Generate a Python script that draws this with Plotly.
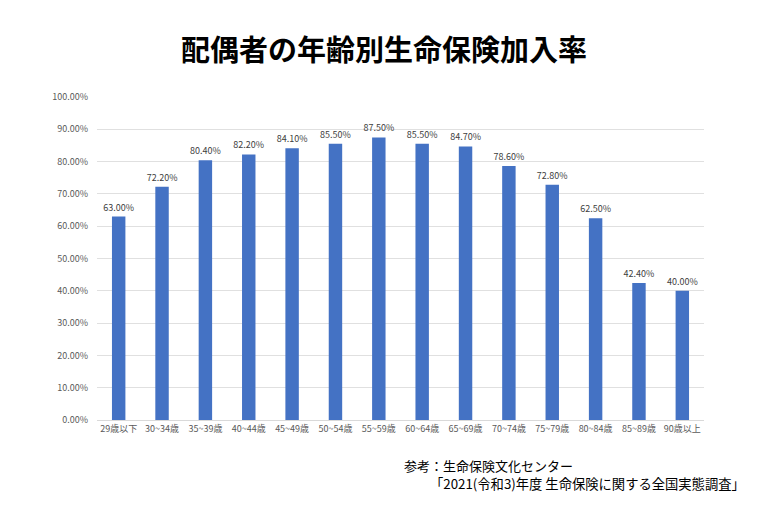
import plotly.graph_objects as go

categories = ["29歳以下", "30~34歳", "35~39歳", "40~44歳", "45~49歳", "50~54歳", "55~59歳",
              "60~64歳", "65~69歳", "70~74歳", "75~79歳", "80~84歳", "85~89歳", "90歳以上"]
rates = [63.0, 72.2, 80.4, 82.2, 84.1, 85.5, 87.5, 85.5, 84.7, 78.6, 72.8, 62.5, 42.4, 40.0]
tick_vals = [0, 10, 20, 30, 40, 50, 60, 70, 80, 90, 100]
tick_text = [f"{v:.2f}%" for v in tick_vals]

FONT = "Noto Sans CJK JP"

fig = go.Figure(go.Bar(
    x=categories, y=rates,
    marker=dict(color="#4472C4", line=dict(width=0)),
    width=0.31,
    text=[f"{v:.2f}%" for v in rates],
    textposition="outside",
    constraintext="none",
    textfont=dict(size=9, color="#404040", family=FONT),
    cliponaxis=False,
))

fig.update_layout(
    width=768, height=512,
    paper_bgcolor="white", plot_bgcolor="white",
    margin=dict(l=89, r=72, t=89, b=100),
    font=dict(family=FONT),
    showlegend=False,
    title=dict(text="<b>配偶者の年齢別生命保険加入率</b>", x=376/768, xanchor="center",
               y=1 - 43/512, yanchor="middle", font=dict(size=29, color="black", family=FONT)),
    xaxis=dict(tickfont=dict(size=9, color="#595959"), showline=True, linecolor="#D9D9D9",
               ticks="", showgrid=False, automargin=False),
    yaxis=dict(range=[0, 100], tickvals=tick_vals, ticktext=tick_text,
               tickfont=dict(size=9, color="#595959"), showgrid=True, gridcolor="#E0E0E0",
               zeroline=False, ticks="", ticklabelstandoff=8, automargin=False),
    bargap=0.69,
)

fig.add_annotation(text="参考：生命保険文化センター",
                   xref="paper", yref="paper", x=(394 - 89) / 607, y=-(465 - 8 - 412) / 323,
                   xanchor="left", yanchor="middle", showarrow=False, align="left",
                   font=dict(size=13, color="black", family=FONT))
fig.add_annotation(text="「2021(令和3)年度 生命保険に関する全国実態調査」",
                   xref="paper", yref="paper", x=(420 - 89) / 607, y=-(483 - 8 - 412) / 323,
                   xanchor="left", yanchor="middle", showarrow=False, align="left",
                   font=dict(size=13.3, color="black", family=FONT))

fig.write_html("out.html")
